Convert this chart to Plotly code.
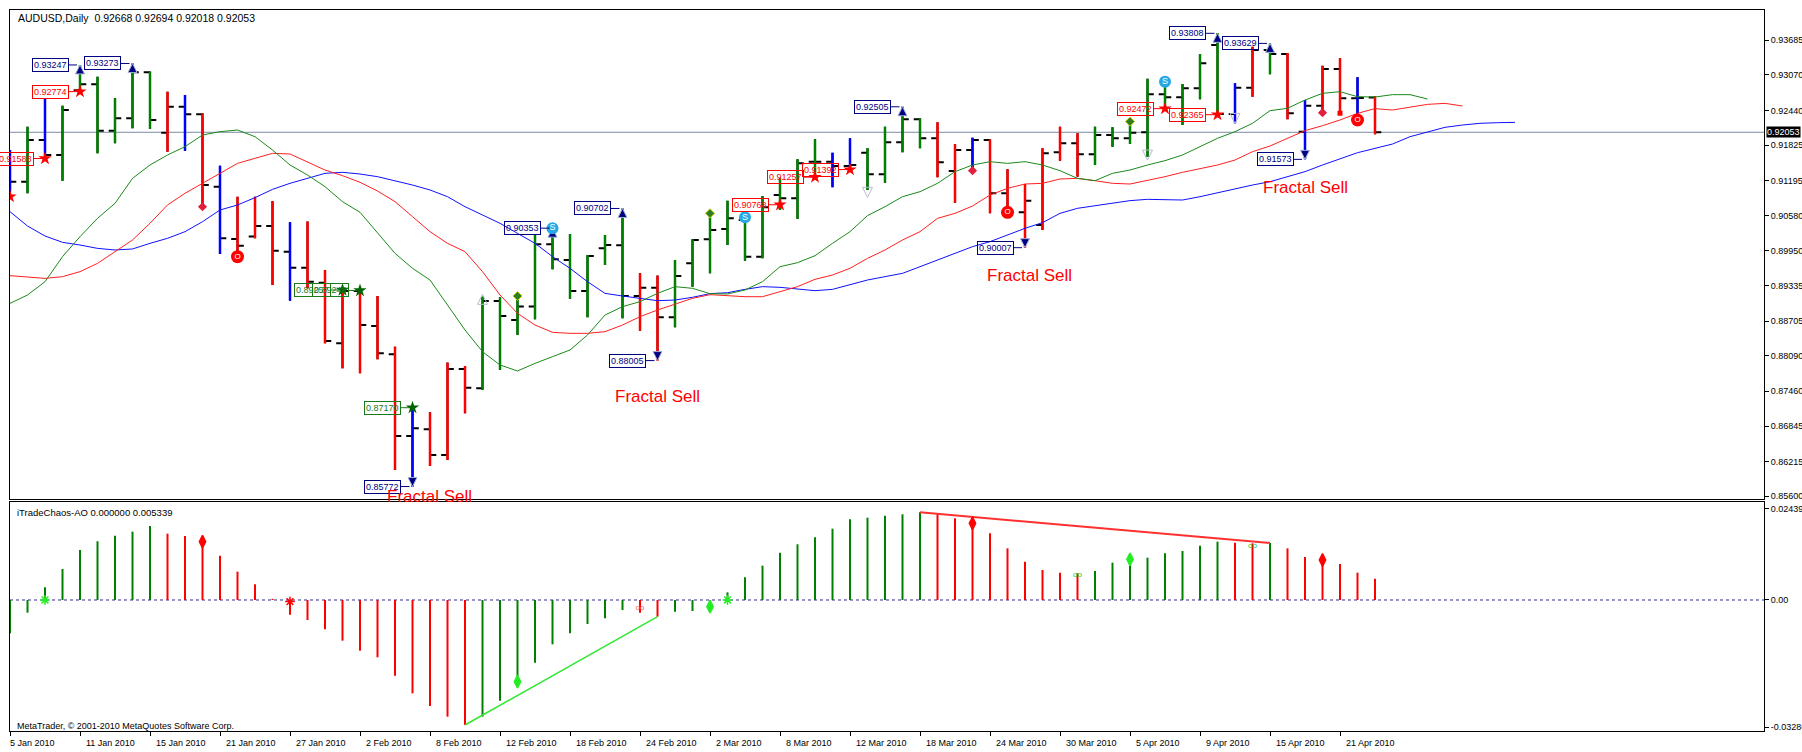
import plotly.graph_objects as go

FONT = "Liberation Sans, Arial, sans-serif"

# ---------------------------------------------------------------- data
date_tick_bars = list(range(0, 77, 4))
date_tick_labels = ["5 Jan 2010", "11 Jan 2010", "15 Jan 2010", "21 Jan 2010", "27 Jan 2010",
                    "2 Feb 2010", "8 Feb 2010", "12 Feb 2010", "18 Feb 2010", "24 Feb 2010",
                    "2 Mar 2010", "8 Mar 2010", "12 Mar 2010", "18 Mar 2010", "24 Mar 2010",
                    "30 Mar 2010", "5 Apr 2010", "9 Apr 2010", "15 Apr 2010", "21 Apr 2010"]

opens = [0.91444, 0.91178, 0.91916, 0.91651, 0.92800, 0.92903, 0.92082, 0.92301, 0.93116, 0.92046,
         0.92507, 0.92372, 0.91089, 0.90161, 0.90203, 0.90392, 0.89937, 0.89653, 0.89387, 0.88311,
         0.89240, 0.88619, 0.88116, 0.86668, 0.86787, 0.86331, 0.87856, 0.87513, 0.89062, 0.88725,
         0.88962, 0.90067, 0.89789, 0.89239, 0.89996, 0.90049, 0.89151, 0.89298, 0.88772, 0.89730,
         0.90155, 0.90339, 0.90498, 0.89848, 0.90941, 0.90882, 0.91532, 0.91532, 0.91455, 0.91692,
         0.91308, 0.91875, 0.92283, 0.91946, 0.91367, 0.91739, 0.91916, 0.90971, 0.90634, 0.90409,
         0.91698, 0.91857, 0.91662, 0.92005, 0.91946, 0.92052, 0.92726, 0.92673, 0.92833, 0.93601,
         0.92377, 0.92844, 0.93512, 0.93441, 0.92064, 0.92525, 0.93175, 0.92655, 0.92668]
highs = [0.91739, 0.92153, 0.92655, 0.92525, 0.93247, 0.93039, 0.92655, 0.93273, 0.93130, 0.92773,
         0.92714, 0.92390, 0.91461, 0.90912, 0.90912, 0.90835, 0.90457, 0.90469, 0.89612, 0.89260,
         0.89280, 0.89151, 0.88252, 0.87170, 0.87088, 0.87969, 0.87910, 0.89139, 0.89127, 0.89139,
         0.90232, 0.90353, 0.90250, 0.89878, 0.90232, 0.90702, 0.89553, 0.89512, 0.89789, 0.90155,
         0.90616, 0.90841, 0.90545, 0.90924, 0.91237, 0.91574, 0.91928, 0.91692, 0.91946, 0.91769,
         0.92153, 0.92505, 0.92301, 0.92230, 0.91840, 0.91958, 0.91930, 0.91396, 0.91136, 0.91769,
         0.92153, 0.92035, 0.92153, 0.92141, 0.92242, 0.93000, 0.92951, 0.92910, 0.93441, 0.93808,
         0.92921, 0.93571, 0.93629, 0.93460, 0.92626, 0.93234, 0.93364, 0.93028, 0.92694]
lows = [0.91000, 0.90971, 0.91651, 0.91195, 0.92774, 0.91680, 0.91857, 0.92123, 0.92112, 0.91710,
        0.91727, 0.90734, 0.89895, 0.89907, 0.90173, 0.89346, 0.89068, 0.89287, 0.88311, 0.87868,
        0.87780, 0.88028, 0.86066, 0.85772, 0.86136, 0.86243, 0.87070, 0.87484, 0.87839, 0.88459,
        0.88737, 0.89623, 0.89103, 0.88772, 0.89700, 0.88755, 0.88536, 0.88005, 0.88595, 0.89316,
        0.89553, 0.90055, 0.89777, 0.89819, 0.90676, 0.90516, 0.91257, 0.91077, 0.91392, 0.91030,
        0.91160, 0.91698, 0.91769, 0.91255, 0.90805, 0.91373, 0.90616, 0.90557, 0.90007, 0.90321,
        0.91550, 0.91266, 0.91473, 0.91798, 0.91846, 0.91621, 0.92472, 0.92182, 0.92638, 0.92365,
        0.92212, 0.92685, 0.93081, 0.92283, 0.91573, 0.92390, 0.92360, 0.92271, 0.92018]
closes = [0.91178, 0.91916, 0.91651, 0.92448, 0.92903, 0.92082, 0.92301, 0.93116, 0.92271, 0.92507,
          0.92372, 0.91119, 0.90173, 0.90043, 0.90392, 0.89954, 0.89653, 0.89405, 0.88353, 0.89240,
          0.88636, 0.88134, 0.86668, 0.86804, 0.86331, 0.87856, 0.87525, 0.89062, 0.88796, 0.88962,
          0.90067, 0.89801, 0.89239, 0.89860, 0.90055, 0.89151, 0.89298, 0.88772, 0.89505, 0.90143,
          0.90321, 0.90528, 0.89848, 0.90723, 0.90882, 0.91503, 0.91532, 0.91455, 0.91473, 0.91308,
          0.91875, 0.92283, 0.91946, 0.91521, 0.91739, 0.91916, 0.90971, 0.90634, 0.90841, 0.91680,
          0.91857, 0.91662, 0.92005, 0.91946, 0.92046, 0.92726, 0.92673, 0.92833, 0.93276, 0.92377,
          0.92844, 0.93512, 0.93441, 0.92390, 0.92525, 0.93175, 0.92655, 0.92660, 0.92053]
bar_colors = list("bgbgggggg" "rbrbrrrbrrrrrrbrrr" "ggggggggg" "rr" "ggggggggg" "bb" "gggg"
                  "rr" "b" "rrrrrr" "gggggggg" "b" "r" "g" "r" "b" "rr" "b" "r")

# Alligator lines (lips shifted 3 bars, teeth 5, jaw 8)
lips = [0.89020, 0.89168, 0.89404, 0.89848, 0.90202, 0.90527, 0.90793, 0.91236, 0.91473, 0.91650,
        0.91798, 0.92005, 0.92064, 0.92093, 0.91975, 0.91739, 0.91473, 0.91296, 0.91089, 0.90823,
        0.90634, 0.90261, 0.89907, 0.89641, 0.89434, 0.88991, 0.88547, 0.88163, 0.87927, 0.87821,
        0.87956, 0.88075, 0.88193, 0.88459, 0.88813, 0.88961, 0.89050, 0.89197, 0.89316, 0.89286,
        0.89192, 0.89186, 0.89257, 0.89404, 0.89670, 0.89741, 0.89865, 0.90084, 0.90291, 0.90575,
        0.90734, 0.90911, 0.91000, 0.91148, 0.91355, 0.91473, 0.91532, 0.91502, 0.91532, 0.91473,
        0.91372, 0.91236, 0.91195, 0.91325, 0.91384, 0.91473, 0.91550, 0.91650, 0.91798, 0.91946,
        0.92064, 0.92212, 0.92436, 0.92478, 0.92625, 0.92743, 0.92773, 0.92684, 0.92678, 0.92720,
        0.92720, 0.92643]
teeth = [0.89511, 0.89493, 0.89463, 0.89493, 0.89582, 0.89729, 0.89936, 0.90143, 0.90439, 0.90764,
         0.90971, 0.91148, 0.91325, 0.91502, 0.91591, 0.91680, 0.91668, 0.91532, 0.91384, 0.91284,
         0.91166, 0.91012, 0.90823, 0.90557, 0.90291, 0.90084, 0.89936, 0.89582, 0.89168, 0.88843,
         0.88636, 0.88506, 0.88488, 0.88488, 0.88518, 0.88636, 0.88784, 0.88902, 0.89008, 0.89109,
         0.89174, 0.89156, 0.89138, 0.89138, 0.89227, 0.89316, 0.89446, 0.89523, 0.89641, 0.89818,
         0.89966, 0.90143, 0.90291, 0.90527, 0.90616, 0.90746, 0.90941, 0.91059, 0.91136, 0.91148,
         0.91225, 0.91236, 0.91195, 0.91148, 0.91136, 0.91195, 0.91266, 0.91343, 0.91414, 0.91473,
         0.91561, 0.91709, 0.91810, 0.91946, 0.92082, 0.92170, 0.92271, 0.92389, 0.92472, 0.92448,
         0.92495, 0.92548, 0.92566, 0.92519]
jaw = [0.90645, 0.90391, 0.90214, 0.90102, 0.90054, 0.89995, 0.89966, 0.89984, 0.90084, 0.90173,
       0.90291, 0.90468, 0.90675, 0.90764, 0.90894, 0.91041, 0.91148, 0.91236, 0.91325, 0.91343,
       0.91313, 0.91266, 0.91195, 0.91118, 0.91030, 0.90911, 0.90734, 0.90586, 0.90439, 0.90261,
       0.90084, 0.89848, 0.89641, 0.89404, 0.89197, 0.89150, 0.89109, 0.89067, 0.89079, 0.89127,
       0.89192, 0.89209, 0.89268, 0.89316, 0.89304, 0.89268, 0.89245, 0.89268, 0.89345, 0.89434,
       0.89493, 0.89552, 0.89670, 0.89788, 0.89907, 0.90025, 0.90114, 0.90232, 0.90350, 0.90451,
       0.90616, 0.90705, 0.90746, 0.90793, 0.90841, 0.90864, 0.90852, 0.90852, 0.90911, 0.90982,
       0.91041, 0.91118, 0.91177, 0.91266, 0.91355, 0.91473, 0.91579, 0.91691, 0.91768, 0.91845,
       0.91975, 0.92064, 0.92141, 0.92182, 0.92212, 0.92223, 0.92229]

# fractals and signal marks on the price panel
up_frac_bars = [4, 7, 31, 35, 51, 69, 72]
up_frac_prices = [0.93247, 0.93273, 0.90353, 0.90702, 0.92505, 0.93808, 0.93629]
down_frac_bars = [23, 37, 58, 74]
down_frac_prices = [0.85772, 0.88005, 0.90007, 0.91573]
gray_up_bars = [27]
gray_up_prices = [0.89180]
gray_down_bars = [49, 65, 70]
gray_down_prices = [0.90900, 0.91560, 0.92210]
red_star_bars = [0, 2, 4, 44, 46, 48, 66, 69]
red_star_prices = [0.90911, 0.91588, 0.92774, 0.90768, 0.91257, 0.91392, 0.92472, 0.92365]
red_star_labeled = [False, True, True, True, True, True, True, True]
green_star_bars = [19, 20, 23]
green_star_prices = [0.89257, 0.89248, 0.87170]
blue_circle_bars = [31, 42, 66]
blue_circle_prices = [0.90353, 0.90545, 0.92951]
red_circle_bars = [13, 57, 77]
red_circle_prices = [0.89848, 0.90634, 0.92271]
green_diamond_bars = [29, 40, 64]
green_diamond_prices = [0.89150, 0.90616, 0.92242]
red_diamond_bars = [11, 55, 75]
red_diamond_prices = [0.90734, 0.91373, 0.92401]
red_square_bars = [76]
red_square_prices = [0.92390]
sell_text = "Fractal Sell"

price_ticks = [0.93685, 0.93070, 0.92440, 0.91825, 0.91195, 0.90580, 0.89950,
               0.89335, 0.88705, 0.88090, 0.87460, 0.86845, 0.86215, 0.85600]

# Awesome Oscillator
ao_values = [-0.00837, -0.00318, 0.00318, 0.00778, 0.01255, 0.01475, 0.01610, 0.01716, 0.01858, 0.01665,
             0.01607, 0.01490, 0.01113, 0.00711, 0.00398, 0.00030, -0.00370, -0.00502, -0.00736, -0.01021,
             -0.01272, -0.01439, -0.01900, -0.02343, -0.02661, -0.02929, -0.03138, -0.02929, -0.02527, -0.02050,
             -0.01573, -0.01113, -0.00837, -0.00603, -0.00460, -0.00251, -0.00318, -0.00418, -0.00293, -0.00276,
             -0.00151, 0.00192, 0.00569, 0.00862, 0.01188, 0.01398, 0.01573, 0.01791, 0.02025, 0.02067,
             0.02117, 0.02151, 0.02201, 0.02159, 0.02050, 0.01983, 0.01674, 0.01297, 0.00962, 0.00753,
             0.00686, 0.00670, 0.00728, 0.00937, 0.01030, 0.01063, 0.01172, 0.01230, 0.01364, 0.01465,
             0.01440, 0.01423, 0.01430, 0.01297, 0.01080, 0.01046, 0.00904, 0.00686, 0.00534]
ao_colors = list("g" * 9 + "r" * 18 + "g" * 9 + "rr" + "g" * 15 + "r" * 9 + "g" * 8 + "rr" + "g" + "r" * 6)
ao_red_diamond_bars = [11, 55, 75]
ao_red_diamond_vals = [0.01465, 0.01925, 0.01004]
ao_green_diamond_bars = [29, 40, 64]
ao_green_diamond_vals = [-0.02050, -0.00167, 0.01021]
ao_green_cross_bars = [2, 41]
ao_green_cross_vals = [0.0, 0.0]
ao_red_cross_bars = [16]
ao_red_cross_vals = [-0.0004]
ao_red_mark_bars = [36]
ao_red_mark_vals = [-0.0021]
ao_green_mark_bars = [61, 71]
ao_green_mark_vals = [0.00628, 0.01364]
ao_bull_line_bars = [26, 37]
ao_bear_line_bars = [52, 72]
ao_tick_text = ["0.02439", "0.00", "-0.03286"]

# ---------------------------------------------------------------- geometry (pixels)
W, H = 1802, 752
LEFT_PX, RIGHT_PX = 10, 1764
MAIN_TOP, MAIN_BOT = 9.5, 499
AO_TOP, AO_BOT = 502, 731
BAR_PX = 17.5
x_range = [0, (RIGHT_PX - LEFT_PX) / BAR_PX]
main_range = [0.85551, 0.94230]
ao_range = [-0.03289, 0.02460]
ao_tick_pos = [0.02285, 0.0, -0.03189]

GREEN, RED, BLUE, NAVY = "#008000", "#ff0000", "#0000ff", "#000080"
COLOR_OF = {"g": GREEN, "r": RED, "b": BLUE}

fig = go.Figure()

# black open/close ticks
fig.add_trace(go.Ohlc(x=list(range(len(opens))), open=opens, high=highs, low=lows, close=closes,
                      increasing=dict(line=dict(color="black", width=2)),
                      decreasing=dict(line=dict(color="black", width=2)),
                      tickwidth=0.36, xaxis="x", yaxis="y", hoverinfo="skip"))

# coloured high-low bars
for code, col in COLOR_OF.items():
    xs, ys = [], []
    for i, (c, hi, lo) in enumerate(zip(bar_colors, highs, lows)):
        if c == code:
            xs += [i, i, None]
            ys += [lo, hi, None]
    fig.add_trace(go.Scatter(x=xs, y=ys, mode="lines", line=dict(color=col, width=2.5),
                             xaxis="x", yaxis="y", hoverinfo="skip"))

# alligator
for series, col in [(jaw, "#1010ff"), (teeth, "#ff2020"), (lips, "#1a8a1a")]:
    fig.add_trace(go.Scatter(x=list(range(len(series))), y=series, mode="lines",
                             line=dict(color=col, width=1), xaxis="x", yaxis="y", hoverinfo="skip"))


def marks(xs, ys, symbol, color, size, line_color=None, text=None, text_color="white", text_size=8):
    m = dict(symbol=symbol, color=color, size=size)
    if line_color:
        m["line"] = dict(color=line_color, width=1)
    return go.Scatter(x=xs, y=ys, mode="markers+text" if text else "markers", marker=m,
                      text=[text] * len(xs) if text else None, textposition="middle center",
                      textfont=dict(color=text_color, size=text_size, family=FONT),
                      xaxis="x", yaxis="y", hoverinfo="skip")


fig.add_trace(marks(gray_up_bars, gray_up_prices, "arrow-up-open", "#b4bccc", 10))
fig.add_trace(marks(gray_down_bars, gray_down_prices, "arrow-down-open", "#b4bccc", 10))
fig.add_trace(marks(up_frac_bars, up_frac_prices, "arrow-up", NAVY, 9, line_color="#9fb0d8"))
fig.add_trace(marks(down_frac_bars, down_frac_prices, "arrow-down", NAVY, 9, line_color="#9fb0d8"))
fig.add_trace(marks(red_star_bars, red_star_prices, "star", RED, 10))
fig.add_trace(marks(green_star_bars, green_star_prices, "star", "#006400", 10))
fig.add_trace(marks(green_diamond_bars, green_diamond_prices, "diamond", "#2e7d1e", 7, line_color="#c8c800"))
fig.add_trace(marks(red_diamond_bars, red_diamond_prices, "diamond", "#e0203c", 7))
fig.add_trace(marks(red_square_bars, red_square_prices, "square", RED, 5))
fig.add_trace(marks(blue_circle_bars, blue_circle_prices, "circle", "#27a8e6", 12, text="S", text_size=9))
fig.add_trace(marks(red_circle_bars, red_circle_prices, "circle", RED, 13, text="O", text_size=8))

# AO histogram
for code in ["g", "r"]:
    xs, ys = [], []
    for i, (c, v) in enumerate(zip(ao_colors, ao_values)):
        if c == code:
            xs += [i, i, None]
            ys += [0, v, None]
    fig.add_trace(go.Scatter(x=xs, y=ys, mode="lines", line=dict(color=COLOR_OF[code], width=2),
                             xaxis="x2", yaxis="y2", hoverinfo="skip"))

fig.add_trace(go.Scatter(x=ao_bull_line_bars, y=[ao_values[i] for i in ao_bull_line_bars], mode="lines",
                         line=dict(color="#33e833", width=1.5), xaxis="x2", yaxis="y2", hoverinfo="skip"))
fig.add_trace(go.Scatter(x=ao_bear_line_bars, y=[ao_values[i] for i in ao_bear_line_bars], mode="lines",
                         line=dict(color="#ff3030", width=2), xaxis="x2", yaxis="y2", hoverinfo="skip"))


def ao_marks(xs, ys, symbol, color, size, text=None):
    if text:
        return go.Scatter(x=xs, y=ys, mode="text", text=[text] * len(xs), textposition="middle center",
                          textfont=dict(color=color, size=size, family=FONT),
                          xaxis="x2", yaxis="y2", hoverinfo="skip")
    return go.Scatter(x=xs, y=ys, mode="markers", marker=dict(symbol=symbol, color=color, size=size,
                                                               line=dict(color=color, width=1.5)),
                      xaxis="x2", yaxis="y2", hoverinfo="skip")


fig.add_trace(ao_marks(ao_red_diamond_bars, ao_red_diamond_vals, "diamond-tall", RED, 9))
fig.add_trace(ao_marks(ao_green_diamond_bars, ao_green_diamond_vals, "diamond-tall", "#22ee22", 9))
fig.add_trace(ao_marks(ao_green_cross_bars, ao_green_cross_vals, "asterisk-open", "#22ee22", 8))
fig.add_trace(ao_marks(ao_red_cross_bars, ao_red_cross_vals, "asterisk-open", RED, 8))
fig.add_trace(ao_marks(ao_red_mark_bars, ao_red_mark_vals, None, "#ff6060", 8, text="oo"))
fig.add_trace(ao_marks(ao_green_mark_bars, ao_green_mark_vals, None, "#22cc22", 8, text="oo"))

# ---------------------------------------------------------------- annotations
ann = []


def level_label(bar, price, color):
    return dict(x=bar, y=price, xref="x", yref="y", text=f"{price:.5f}", showarrow=True,
                arrowhead=0, arrowwidth=1, arrowcolor=color, ax=-30, ay=0, standoff=3,
                font=dict(size=9, color=color, family=FONT), bordercolor=color,
                borderwidth=1, borderpad=1)


for b, p in zip(up_frac_bars, up_frac_prices):
    ann.append(level_label(b, p, NAVY))
for b, p in zip(down_frac_bars, down_frac_prices):
    ann.append(level_label(b, p, NAVY))
for b, p, lab in zip(red_star_bars, red_star_prices, red_star_labeled):
    if lab:
        ann.append(level_label(b, p, RED))
for b, p in zip(green_star_bars, green_star_prices):
    ann.append(level_label(b, p, "#1a7a1a"))

sell_shift = [(17, -10), (0, -36), (4, -28), (0, -28)]
for (b, p), (dx, dy) in zip(zip(down_frac_bars, down_frac_prices), sell_shift):
    ann.append(dict(x=b, y=p, xref="x", yref="y", text=sell_text, showarrow=False, xshift=dx, yshift=dy,
                    xanchor="center", yanchor="middle", font=dict(size=17, color=RED, family=FONT)))

ann.append(dict(x=16 / W, y=1 - 18 / H, xref="paper", yref="paper", xanchor="left", yanchor="middle",
                showarrow=False, font=dict(size=10.5, color="black", family=FONT),
                text=f"AUDUSD,Daily&nbsp;&nbsp;{opens[-1]:.5f} {highs[-1]:.5f} {lows[-1]:.5f} {closes[-1]:.5f}"))
ann.append(dict(x=15 / W, y=1 - 512 / H, xref="paper", yref="paper", xanchor="left", yanchor="middle",
                showarrow=False, font=dict(size=9.5, color="black", family=FONT),
                text="iTradeChaos-AO 0.000000 0.005339"))
ann.append(dict(x=15 / W, y=1 - 726 / H, xref="paper", yref="paper", xanchor="left", yanchor="middle",
                showarrow=False, font=dict(size=9, color="black", family=FONT),
                text="MetaTrader, © 2001-2010 MetaQuotes Software Corp."))
ann.append(dict(x=(RIGHT_PX + 2) / W, y=closes[-1], xref="paper", yref="y", xanchor="left",
                yanchor="middle", showarrow=False, text=f"{closes[-1]:.5f}", bgcolor="black",
                borderpad=0, font=dict(size=9, color="white", family=FONT)))
for k, (b, lab) in enumerate(zip(date_tick_bars, date_tick_labels)):
    ann.append(dict(x=b, y=1 - 743 / H, xref="x2", yref="paper", xanchor="left", yanchor="middle",
                    xshift=-2 if k == 0 else 4, showarrow=False, text=lab,
                    font=dict(size=9, color="black", family=FONT)))

shapes = [
    dict(type="line", xref="paper", yref="y", x0=LEFT_PX / W, x1=RIGHT_PX / W,
         y0=closes[-1], y1=closes[-1], line=dict(color="#7d8ba3", width=1), layer="below"),
    dict(type="line", xref="paper", yref="y2", x0=LEFT_PX / W, x1=RIGHT_PX / W,
         y0=0, y1=0, line=dict(color="#2a2a9a", width=1, dash="3px,3px"), layer="below"),
]

axis_common = dict(showline=True, mirror=True, linecolor="black", linewidth=1, showgrid=False,
                   zeroline=False, automargin=False)
tickfont = dict(size=9, color="black", family=FONT)

fig.update_layout(
    template="none",
    width=W, height=H,
    margin=dict(l=0, r=0, t=0, b=0),
    paper_bgcolor="white", plot_bgcolor="white",
    showlegend=False,
    xaxis=dict(domain=[LEFT_PX / W, RIGHT_PX / W], range=x_range, anchor="y", showticklabels=False,
               ticks="", rangeslider=dict(visible=False), **axis_common),
    yaxis=dict(domain=[1 - MAIN_BOT / H, 1 - MAIN_TOP / H], range=main_range, anchor="x", side="right",
               tickvals=price_ticks, ticktext=[f"{v:.5f}" for v in price_ticks], ticks="outside",
               ticklen=4, tickcolor="black", tickfont=tickfont, **axis_common),
    xaxis2=dict(domain=[LEFT_PX / W, RIGHT_PX / W], range=x_range, anchor="y2", tickvals=date_tick_bars,
                showticklabels=False, ticks="outside", ticklen=4, tickcolor="black",
                rangeslider=dict(visible=False), **axis_common),
    yaxis2=dict(domain=[1 - AO_BOT / H, 1 - AO_TOP / H], range=ao_range, anchor="x2", side="right",
                tickvals=ao_tick_pos, ticktext=ao_tick_text, ticks="outside", ticklen=4,
                tickcolor="black", tickfont=tickfont, **axis_common),
    annotations=ann,
    shapes=shapes,
)

fig.write_html("out.html", config={"displayModeBar": False},
               post_script="document.body.style.margin='0px';document.body.style.overflow='hidden';")
